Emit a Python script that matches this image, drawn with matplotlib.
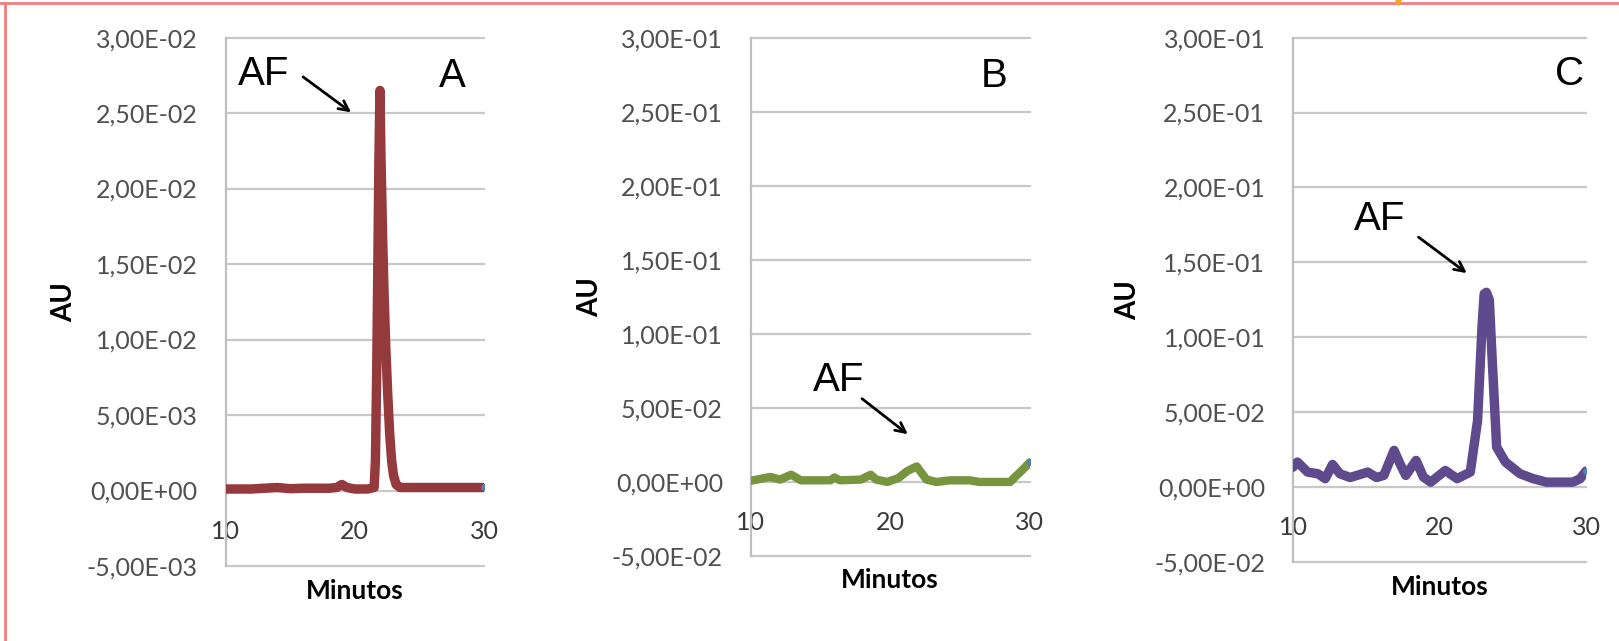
import matplotlib
matplotlib.use("Agg")
import matplotlib.pyplot as plt
from matplotlib.lines import Line2D

# ---------------- data ----------------
x_a = [10, 11, 12, 13, 14, 15, 16, 17, 18, 18.6, 19.0, 19.4, 20, 21, 21.5, 21.6, 21.7, 21.8,
       21.87, 21.95, 22.03, 22.15, 22.27, 22.4, 22.55, 22.7, 22.85, 23.0, 23.2, 23.5,
       24, 25, 26, 27, 28, 29, 30]
y_a = [0.0001, 0.0001, 0.0001, 0.00015, 0.0002, 0.00012, 0.00015, 0.00015, 0.00015, 0.0002,
       0.0004, 0.0002, 0.0001, 0.0001, 0.0002, 0.002, 0.008, 0.016, 0.022, 0.0265, 0.022,
       0.017, 0.013, 0.0095, 0.0064, 0.0038, 0.002, 0.001, 0.0004, 0.0002,
       0.0002, 0.0002, 0.0002, 0.0002, 0.0002, 0.0002, 0.0002]

x_b = [10, 11.4, 12.1, 12.9, 13.6, 15.7, 16.0, 16.4, 17.9, 18.6, 19.0, 19.8, 20.6, 21.2,
       21.9, 22.6, 23.3, 24.3, 25.7, 26.4, 28.6, 29.0, 29.5, 30.0]
y_b = [0.0008, 0.0034, 0.0016, 0.0049, 0.0011, 0.0011, 0.003, 0.0011, 0.0016, 0.0049,
       0.0016, 0.0, 0.0027, 0.0072, 0.0105, 0.0016, 0.0, 0.0011, 0.0011, 0.0, 0.0,
       0.0038, 0.0083, 0.0132]

x_c = [10.0, 10.3, 11.0, 11.7, 12.2, 12.7, 13.2, 13.9, 15.1, 15.7, 16.2, 16.9, 17.3, 17.7,
       18.4, 18.9, 19.4, 20.4, 21.2, 22.1, 22.6, 22.9, 23.05, 23.2, 23.4, 23.6, 23.9, 24.5,
       25.5, 26.4, 27.3, 29.1, 29.6, 30.0]
y_c = [0.0133, 0.0167, 0.010, 0.0089, 0.0056, 0.0151, 0.0089, 0.0064, 0.010, 0.0064, 0.0078,
       0.0245, 0.0156, 0.0078, 0.0178, 0.0067, 0.0033, 0.0111, 0.0056, 0.010, 0.0445, 0.1067,
       0.129, 0.130, 0.125, 0.0845, 0.0267, 0.0167, 0.0089, 0.0056, 0.0033, 0.0033, 0.0056,
       0.0107]

xticks = [10, 20, 30]
xtick_labels = ["10", "20", "30"]
yticks_a = [-0.005, 0.0, 0.005, 0.01, 0.015, 0.02, 0.025, 0.03]
ytick_labels_a = ["-5,00E-03", "0,00E+00", "5,00E-03", "1,00E-02", "1,50E-02",
                  "2,00E-02", "2,50E-02", "3,00E-02"]
yticks_bc = [-0.05, 0.0, 0.05, 0.10, 0.15, 0.20, 0.25, 0.30]
ytick_labels_bc = ["-5,00E-02", "0,00E+00", "5,00E-02", "1,00E-01", "1,50E-01",
                   "2,00E-01", "2,50E-01", "3,00E-01"]

panel_letters = ["A", "B", "C"]
# annotation positions (data coords): AF text, arrow tail, arrow head, panel letter
af_text = [(12.98, 0.02762), (16.3, 0.0687), (15.93, 0.1786)]
arrow_tail = [(16.0, 0.0274), (17.98, 0.0562), (18.57, 0.1668)]
arrow_head = [(19.72, 0.02505), (21.26, 0.0322), (21.86, 0.1428)]
letter_pos = [(27.58, 0.02748), (27.48, 0.2743), (28.9, 0.276)]

# ---------------- figure ----------------
W, H = 1619, 641
fig = plt.figure(figsize=(W / 100, H / 100), dpi=100)
fig.patch.set_facecolor("white")

def add_ax(l, r, t, b):
    return fig.add_axes([l / W, 1 - b / H, (r - l) / W, (b - t) / H])

boxes = [(225.5, 484, 37.6, 566), (750.7, 1029.7, 37.6, 556), (1293, 1586, 37.6, 562)]
series = [(x_a, y_a, "#953A3C"), (x_b, y_b, "#77953F"), (x_c, y_c, "#5E4A8C")]
lws = [6.8, 6.0, 6.8]
ylims = [(-0.005, 0.03), (-0.05, 0.30), (-0.05, 0.30)]
yticks = [yticks_a, yticks_bc, yticks_bc]
yticklabels = [ytick_labels_a, ytick_labels_bc, ytick_labels_bc]
ylabel_x = [-0.625, -0.576, -0.563]

tick_font = "Lato"
for i, ax in enumerate([add_ax(*b) for b in boxes]):
    for s in ["top", "right"]:
        ax.spines[s].set_visible(False)
    ax.spines["bottom"].set_position(("data", 0))
    ax.spines["bottom"].set_visible(False)
    ax.spines["left"].set_color("#BFBFBF")
    ax.spines["left"].set_linewidth(1.6)

    xs, ys, col = series[i]
    ax.plot(xs, ys, color=col, lw=lws[i], solid_joinstyle="round",
            solid_capstyle="round", zorder=3)
    ax.plot([xs[-1]], [ys[-1]], "o", color="#4F81BD", ms=4, zorder=4)
    ax.set_xlim(10, 30)
    ax.set_ylim(*ylims[i])
    ax.set_yticks(yticks[i])
    ax.set_yticklabels(yticklabels[i], fontsize=18, color="#505050", family=tick_font)
    ax.set_xticks(xticks)
    ax.set_xticklabels(xtick_labels, fontsize=18, color="#3A3A3A", family=tick_font)
    ax.tick_params(axis="y", length=0, pad=20)
    ax.tick_params(axis="x", length=0, pad=21)
    ax.yaxis.grid(True, color="#C8C8C8", lw=1.6)
    for gl in ax.get_ygridlines():
        gl.set_clip_on(False)
    ax.set_axisbelow(True)
    ax.set_ylabel("AU", fontsize=20, fontweight="bold", family=tick_font, color="black")
    ax.yaxis.set_label_coords(ylabel_x[i], 0.5)
    ax.yaxis.label.set_va("center")
    ax.set_xlabel("Minutos", fontsize=19, fontweight="bold", family=tick_font, color="black")
    ax.xaxis.set_label_coords(0.5, -0.047)
    ax.xaxis.label.set_va("center")

    ax.text(*af_text[i], "AF", fontsize=29, family="Liberation Sans",
            ha="center", va="center", color="black")
    ax.text(*letter_pos[i], panel_letters[i], fontsize=29, family="Liberation Sans",
            ha="center", va="center", color="black")
    ax.annotate("", xy=arrow_head[i], xytext=arrow_tail[i],
                arrowprops=dict(arrowstyle="->,head_length=0.7,head_width=0.35",
                                color="black", lw=2.0, shrinkA=0, shrinkB=0))

# red frame (top & left) and small orange mark
fig.add_artist(Line2D([0, 1], [1 - 3 / H, 1 - 3 / H], color="#F07C7C", lw=2.0,
                      transform=fig.transFigure))
fig.add_artist(Line2D([5 / W, 5 / W], [0, 1 - 3 / H], color="#F07C7C", lw=2.0,
                      transform=fig.transFigure))
fig.add_artist(Line2D([1398 / W], [1 - 1 / H], marker="v", ms=6, color="#F5A623",
                      transform=fig.transFigure))

fig.savefig("out.png", dpi=100, facecolor="white")
